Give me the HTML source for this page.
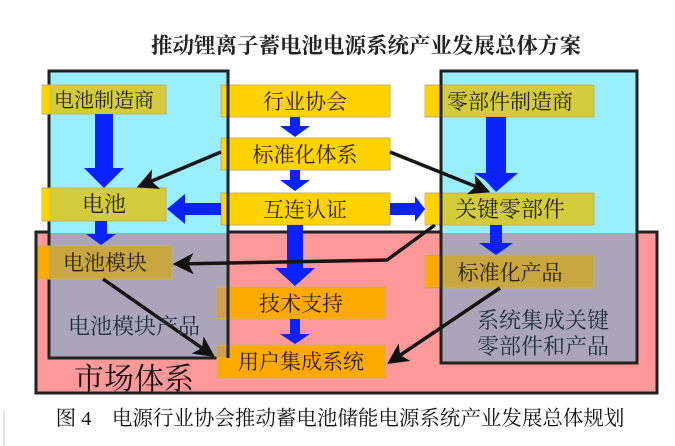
<!DOCTYPE html>
<html><head><meta charset="utf-8"><style>
html,body{margin:0;padding:0;background:#fff;width:675px;height:446px;overflow:hidden}
svg{display:block}
text{font-family:"Liberation Serif","Noto Serif CJK SC",serif}
</style></head><body>
<svg width="675" height="446" viewBox="0 0 675 446" xmlns="http://www.w3.org/2000/svg">
<defs>
<marker id="ah" markerWidth="6" markerHeight="6" refX="5" refY="3" orient="auto" markerUnits="strokeWidth">
<path d="M0,0 L6,3 L0,6 L1.5,3 z" fill="#111"/></marker>
</defs>
<text x="366" y="53" font-size="21.5" font-weight="bold" text-anchor="middle" fill="#222">推动锂离子蓄电池电源系统产业发展总体方案</text>
<rect x="36" y="232" width="621" height="161" fill="#ff9999" stroke="#222" stroke-width="3"/>
<rect x="49" y="71" width="179" height="287" fill="#99eeff"/>
<rect x="441" y="71" width="196" height="292" fill="#99eeff"/>
<rect x="49" y="233" width="179" height="125" fill="#aaa5b9"/>
<rect x="441" y="233" width="196" height="130" fill="#aaa5b9"/>
<rect x="49" y="71" width="179" height="287" fill="none" stroke="#222" stroke-width="3"/>
<rect x="441" y="71" width="196" height="292" fill="none" stroke="#222" stroke-width="3"/>
<g stroke="#c8b060" stroke-width="1">
<rect x="42" y="85" width="124" height="29" fill="#d2cc3c"/>
<rect x="221" y="85" width="169" height="32" fill="#ffd200"/>
<rect x="425" y="85" width="169" height="32" fill="#d2cc3c"/>
<rect x="221" y="138" width="169" height="32" fill="#ffd200"/>
<rect x="42" y="188" width="124" height="33" fill="#d2cc3c"/>
<rect x="221" y="193" width="169" height="32" fill="#ffd200"/>
<rect x="425" y="193" width="169" height="32" fill="#d2cc3c"/>
<rect x="38" y="246" width="134" height="33" fill="#c8a640"/>
<rect x="425" y="255" width="169" height="33" fill="#c8a640"/>
<rect x="217" y="287" width="168" height="32" fill="#ffaa00"/>
<rect x="217" y="345" width="168" height="33" fill="#ffaa00"/>
</g>
<rect x="42" y="86" width="7" height="27" fill="#ffd200"/>
<rect x="425" y="86" width="16" height="30" fill="#ffd200"/>
<rect x="42" y="189" width="7" height="31" fill="#ffd200"/>
<rect x="425" y="194" width="16" height="30" fill="#ffd200"/>
<rect x="38" y="247" width="11" height="31" fill="#ffaa00"/>
<rect x="425" y="256" width="16" height="31" fill="#ffaa00"/>
<rect x="217" y="288" width="11" height="30" fill="#d0a050"/>
<rect x="217" y="346" width="11" height="11" fill="#d0a050"/>
<line x1="228" y1="71" x2="228" y2="358" stroke="#222" stroke-width="3"/>
<line x1="441" y1="71" x2="441" y2="363" stroke="#222" stroke-width="3"/>
<g fill="#0a22ff">
<polygon points="95,114 113,114 113,168 124,168 104,188 84,168 95,168"/>
<polygon points="290,117 300,117 300,126 310,126 295,137 280,126 290,126"/>
<polygon points="290,170 300,170 300,180 310,180 295,191 280,180 290,180"/>
<polygon points="221,203 185,203 185,194 167,209 185,224 185,215 221,215"/>
<polygon points="390,203 415,203 415,196 425,209 415,222 415,215 390,215"/>
<polygon points="95,221 107,221 107,234 116,234 101,245 86,234 95,234"/>
<polygon points="486,117 506,117 506,173 518,173 496,192 485,180 474,173 486,173" />
<polygon points="490,225 502,225 502,243 513,243 496,255 479,243 490,243"/>
<polygon points="287,225 303,225 303,268 315,268 295,286 275,268 287,268"/>
<polygon points="290,319 300,319 300,334 310,334 295,344 280,334 290,334"/>
</g>
<g stroke="#151515" stroke-width="3.5" fill="none" marker-end="url(#ah)">
<line x1="221" y1="152" x2="140" y2="186"/>
<line x1="390" y1="152" x2="487" y2="191"/>
<polyline points="435,225 387,260 176,264"/>
<line x1="103" y1="279" x2="212" y2="355"/>
<line x1="500" y1="288" x2="390" y2="362"/>
</g>
<g font-size="20" fill="#2a2000" text-anchor="middle">
<text x="104" y="107">电池制造商</text>
<text x="305" y="109" font-size="21">行业协会</text>
<text x="510" y="109" font-size="21">零部件制造商</text>
<text x="305" y="162" font-size="21">标准化体系</text>
<text x="104" y="212" font-size="22">电池</text>
<text x="305" y="217" font-size="21">互连认证</text>
<text x="510" y="217" font-size="22">关键零部件</text>
<text x="105" y="270" font-size="21">电池模块</text>
<text x="510" y="280" font-size="21">标准化产品</text>
<text x="301" y="311" font-size="21">技术支持</text>
<text x="301" y="369" font-size="21">用户集成系统</text>
<text x="134" y="334" font-size="22" fill="#203040">电池模块产品</text>
<text x="543" y="328" font-size="22" fill="#203040">系统集成关键</text>
<text x="543" y="354" font-size="22" fill="#203040">零部件和产品</text>
<text x="134" y="389" font-size="30" fill="#111">市场体系</text>
</g>
<text x="340" y="425" font-size="20.5" text-anchor="middle" fill="#111">图 4　电源行业协会推动蓄电池储能电源系统产业发展总体规划</text>
<line x1="4" y1="410" x2="4" y2="446" stroke="#ccc"/>
</svg>
</body></html>
